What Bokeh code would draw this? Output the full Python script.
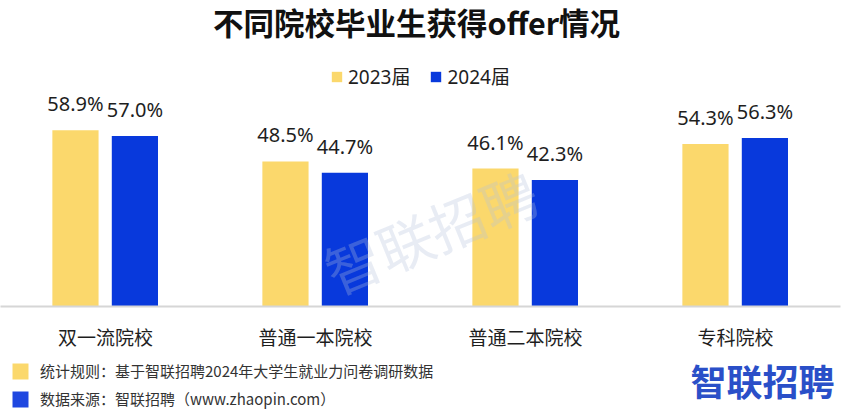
from bokeh.plotting import figure
from bokeh.models import (ColumnDataSource, FactorRange, Range1d, LabelSet, Legend,
                          LegendItem, Label)
from bokeh.core.properties import value
from bokeh.layouts import column
from bokeh.transform import dodge
from bokeh.embed import file_html
from bokeh.resources import INLINE

# ---- data ----
categories = ["双一流院校", "普通一本院校", "普通二本院校", "专科院校"]
series_names = ["2023届", "2024届"]
values_2023 = [58.9, 48.5, 46.1, 54.3]
values_2024 = [57.0, 44.7, 42.3, 56.3]
title_text = "不同院校毕业生获得offer情况"
note_rule = "统计规则：基于智联招聘2024年大学生就业力问卷调研数据"
note_source = "数据来源：智联招聘（www.zhaopin.com）"
brand = "智联招聘"

FONT = "'Noto Sans', 'Noto Sans CJK SC', sans-serif"
CJK = "'Noto Sans CJK SC', sans-serif"
YELLOW = "#FBD86C"
BLUE = "#0839DC"
TEXT = "#1E1E1E"

src = ColumnDataSource(dict(
    cat=categories,
    y2023=values_2023,
    y2024=values_2024,
    l2023=[f"{v:.1f}%" for v in values_2023],
    l2024=[f"{v:.1f}%" for v in values_2024],
))

# ---------------- main chart ----------------
p = figure(
    x_range=FactorRange(factors=categories, range_padding=0),
    y_range=Range1d(0, 102.3),
    width=852, height=354,
    output_backend="svg", toolbar_location=None,
    min_border_left=0, min_border_right=12,
    min_border_top=0, min_border_bottom=48,
)
p.title = None
p.outline_line_color = None
p.background_fill_color = "white"
p.border_fill_color = "white"
p.xgrid.visible = False
p.ygrid.visible = False
p.yaxis.visible = False

r1 = p.vbar(x=dodge("cat", -0.143, range=p.x_range), top="y2023", width=0.22,
            source=src, fill_color=YELLOW, line_color=None)
r2 = p.vbar(x=dodge("cat", 0.14, range=p.x_range), top="y2024", width=0.22,
            source=src, fill_color=BLUE, line_color=None)

for xoff, ycol, lcol in [(-0.143, "y2023", "l2023"), (0.14, "y2024", "l2024")]:
    p.add_layout(LabelSet(
        x=dodge("cat", xoff, range=p.x_range), y=ycol, text=lcol, source=src,
        text_align="center", text_baseline="alphabetic", y_offset=19,
        text_font=value(FONT), text_font_size="20px", text_color=TEXT))

ax = p.xaxis[0]
ax.axis_line_color = "#D6D6D6"
ax.axis_line_width = 2
ax.major_tick_line_color = None
ax.minor_tick_line_color = None
ax.major_label_standoff = 10
ax.major_label_text_font = CJK
ax.major_label_text_font_size = "19px"
ax.major_label_text_color = TEXT

# watermark
p.add_layout(Label(x=430, y=76, x_units="screen", y_units="screen", text=brand,
                   angle=0.39, text_align="center", text_baseline="middle",
                   text_font=CJK, text_font_size="56px", text_color="#B4C0DA",
                   text_alpha=0.3))

# title
p.add_layout(Label(x=416, y=285, x_units="screen", y_units="screen", text=title_text,
                   text_align="center", text_baseline="middle",
                   text_font=CJK, text_font_size="30.5px", text_font_style="bold",
                   text_color="#111111"))

# top legend
top_legend = Legend(
    items=[LegendItem(label=series_names[0], renderers=[r1]),
           LegendItem(label=series_names[1], renderers=[r2])],
    orientation="horizontal", location=(330, 216),
    glyph_width=13, glyph_height=13, label_standoff=5, spacing=19,
    padding=0, margin=0, border_line_color=None, background_fill_alpha=0,
    label_text_font=FONT, label_text_font_size="19px", label_text_color=TEXT)
p.add_layout(top_legend)

# ---------------- footer ----------------
f = figure(width=852, height=58, x_range=Range1d(0, 852), y_range=Range1d(0, 58),
           output_backend="svg", toolbar_location=None,
           min_border_left=0, min_border_right=0, min_border_top=0, min_border_bottom=0)
f.title = None
f.outline_line_color = None
f.xaxis.visible = False
f.yaxis.visible = False
f.xgrid.visible = False
f.ygrid.visible = False

# zero-height key renderers: they only provide the legend swatches
k1 = f.vbar(x=[0], top=[0], bottom=[0], width=0, fill_color=YELLOW, line_color=None)
k2 = f.vbar(x=[0], top=[0], bottom=[0], width=0, fill_color="#1F47E0", line_color=None)

note_legend = Legend(
    items=[LegendItem(label=note_rule, renderers=[k1]),
           LegendItem(label=note_source, renderers=[k2])],
    orientation="vertical", location=(10, 3),
    glyph_width=20, glyph_height=20, label_height=20, label_standoff=10, spacing=7,
    padding=0, margin=0, border_line_color=None, background_fill_alpha=0,
    label_text_font=CJK, label_text_font_size="15px", label_text_color="#333333")
f.add_layout(note_legend)

f.add_layout(Label(x=846, y=33, text=brand,
                   text_align="right", text_baseline="middle",
                   text_font=CJK, text_font_size="36px", text_font_style="bold",
                   text_color="#2A4FC8"))

layout = column(p, f, spacing=0)
open("out.html", "w").write(file_html(layout, INLINE))
